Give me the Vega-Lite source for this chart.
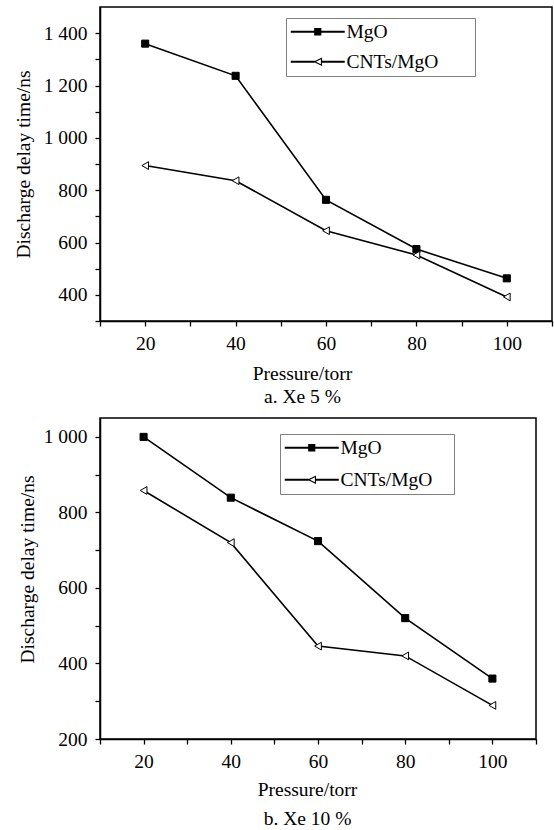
{
  "$schema": "https://vega.github.io/schema/vega-lite/v6.json",
  "padding": {"left": 12, "top": 6, "right": 0, "bottom": 0},
  "config": {
    "font": "Liberation Serif",
    "view": {"stroke": "black", "strokeWidth": 1.5},
    "axis": {
      "grid": false, "domainColor": "black", "domainWidth": 1.5,
      "tickColor": "black", "tickWidth": 1.3, "tickSize": 5,
      "labelColor": "black", "labelFontSize": 19.5, "labelFont": "Liberation Serif",
      "titleFont": "Liberation Serif", "titleFontSize": 19.5, "titleFontWeight": "normal", "titleColor": "black",
      "labelOverlap": false, "labelFlush": false, "labelPadding": 8
    },
    "legend": {
      "orient": "none", "title": null, "padding": 4,
      "strokeColor": "#808080", "fillColor": "white", "symbolSize": 81,
      "symbolOpacity": 1, "symbolFillColor": "black", "symbolStrokeWidth": 0,
      "labelOffset": 37, "labelFontSize": 19.5, "labelFont": "Liberation Serif", "labelColor": "black"
    },
    "concat": {"spacing": 10}
  },
  "datasets": {
    "a": [
      {"pressure": 20, "delay": 1360, "series": "MgO"},
      {"pressure": 40, "delay": 1237, "series": "MgO"},
      {"pressure": 60, "delay": 763, "series": "MgO"},
      {"pressure": 80, "delay": 575, "series": "MgO"},
      {"pressure": 100, "delay": 463, "series": "MgO"},
      {"pressure": 20, "delay": 894, "series": "CNTs/MgO"},
      {"pressure": 40, "delay": 836, "series": "CNTs/MgO"},
      {"pressure": 60, "delay": 645, "series": "CNTs/MgO"},
      {"pressure": 80, "delay": 552, "series": "CNTs/MgO"},
      {"pressure": 100, "delay": 392, "series": "CNTs/MgO"}
    ],
    "b": [
      {"pressure": 20, "delay": 1000, "series": "MgO"},
      {"pressure": 40, "delay": 839, "series": "MgO"},
      {"pressure": 60, "delay": 724, "series": "MgO"},
      {"pressure": 80, "delay": 520, "series": "MgO"},
      {"pressure": 100, "delay": 360, "series": "MgO"},
      {"pressure": 20, "delay": 858, "series": "CNTs/MgO"},
      {"pressure": 40, "delay": 720, "series": "CNTs/MgO"},
      {"pressure": 60, "delay": 446, "series": "CNTs/MgO"},
      {"pressure": 80, "delay": 420, "series": "CNTs/MgO"},
      {"pressure": 100, "delay": 289, "series": "CNTs/MgO"}
    ]
  },
  "resolve": {"scale": {"shape": "independent", "x": "independent", "y": "independent"}, "legend": {"shape": "independent"}},
  "vconcat": [
    {
      "width": 452, "height": 314,
      "data": {"name": "a"},
      "encoding": {
        "x": {"field": "pressure", "type": "quantitative",
          "scale": {"domain": [10, 110], "nice": false},
          "axis": {"values": [10, 20, 30, 40, 50, 60, 70, 80, 90, 100, 110],
            "labelExpr": "datum.value % 20 == 0 ? datum.label : ''",
            "title": ["Pressure/torr", "a. Xe 5 %"], "titleLineHeight": 23, "titleX": 202, "titlePadding": 12}},
        "y": {"field": "delay", "type": "quantitative",
          "scale": {"domain": [300, 1500], "nice": false, "zero": false},
          "axis": {"values": [300, 400, 500, 600, 700, 800, 900, 1000, 1100, 1200, 1300, 1400],
            "labelExpr": "datum.value % 200 == 0 ? replace(format(datum.value, ','), ',', ' ') : ''",
            "title": "Discharge delay time/ns", "titlePadding": 10}}
      },
      "layer": [
        {"mark": {"type": "line", "color": "black", "strokeWidth": 1.6}, "encoding": {"detail": {"field": "series"}}},
        {"transform": [{"filter": "datum.series === 'MgO'"}],
          "mark": {"type": "point", "shape": "square", "filled": true, "fill": "black", "stroke": "black", "strokeWidth": 1, "size": 50, "opacity": 1}},
        {"transform": [{"filter": "datum.series === 'CNTs/MgO'"}],
          "mark": {"type": "point", "shape": "triangle-left", "filled": true, "fill": "white", "stroke": "black", "strokeWidth": 1, "size": 60, "opacity": 1}},
        {"transform": [{"filter": "false"}],
          "mark": {"type": "point", "filled": true, "fill": "black", "opacity": 1, "size": 81},
          "encoding": {
            "shape": {"field": "series", "type": "nominal",
              "scale": {"domain": ["MgO", "CNTs/MgO"], "range": [
                "M-2,-0.22H10V0.22H-2ZM3.2,-0.85H4.8V0.85H3.2ZM38,0",
                "M-2,-0.2H3.3V0.2H-2ZM4.9,-0.2H10V0.2H4.9ZM3.0,0L4.95,-0.95L4.95,0.95ZM3.6,0L4.7,0.55L4.7,-0.55ZM38,0"]},
              "legend": {"legendX": 186, "legendY": 11, "rowPadding": 9}}
          }}
      ]
    },
    {
      "width": 436, "height": 321,
      "data": {"name": "b"},
      "encoding": {
        "x": {"field": "pressure", "type": "quantitative",
          "scale": {"domain": [10, 110], "nice": false},
          "axis": {"values": [10, 20, 30, 40, 50, 60, 70, 80, 90, 100, 110],
            "labelExpr": "datum.value % 20 == 0 ? datum.label : ''",
            "title": ["Pressure/torr", "b. Xe 10 %"], "titleLineHeight": 29, "titleX": 207, "titlePadding": 10}},
        "y": {"field": "delay", "type": "quantitative",
          "scale": {"domain": [200, 1050], "nice": false, "zero": false},
          "axis": {"values": [200, 300, 400, 500, 600, 700, 800, 900, 1000],
            "labelExpr": "datum.value % 200 == 0 ? replace(format(datum.value, ','), ',', ' ') : ''",
            "title": "Discharge delay time/ns", "titlePadding": 6, "titleY": 151}}
      },
      "layer": [
        {"mark": {"type": "line", "color": "black", "strokeWidth": 1.6}, "encoding": {"detail": {"field": "series"}}},
        {"transform": [{"filter": "datum.series === 'MgO'"}],
          "mark": {"type": "point", "shape": "square", "filled": true, "fill": "black", "stroke": "black", "strokeWidth": 1, "size": 50, "opacity": 1}},
        {"transform": [{"filter": "datum.series === 'CNTs/MgO'"}],
          "mark": {"type": "point", "shape": "triangle-left", "filled": true, "fill": "white", "stroke": "black", "strokeWidth": 1, "size": 60, "opacity": 1}},
        {"transform": [{"filter": "false"}],
          "mark": {"type": "point", "filled": true, "fill": "black", "opacity": 1, "size": 81},
          "encoding": {
            "shape": {"field": "series", "type": "nominal",
              "scale": {"domain": ["MgO", "CNTs/MgO"], "range": [
                "M-2,-0.22H10V0.22H-2ZM3.2,-0.85H4.8V0.85H3.2ZM34.7,0",
                "M-2,-0.2H3.3V0.2H-2ZM4.9,-0.2H10V0.2H4.9ZM3.0,0L4.95,-0.95L4.95,0.95ZM3.6,0L4.7,0.55L4.7,-0.55ZM34.7,0"]},
              "legend": {"legendX": 180, "legendY": 16, "rowPadding": 11}}
          }}
      ]
    }
  ]
}
